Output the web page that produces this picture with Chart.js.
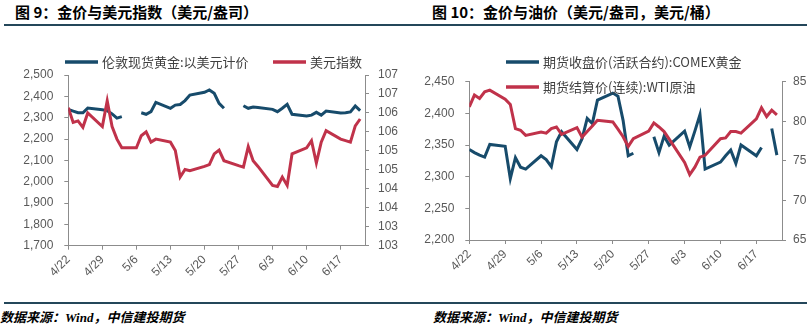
<!DOCTYPE html>
<html>
<head>
<meta charset="utf-8">
<script src="https://cdn.jsdelivr.net/npm/chart.js@4.4.1/dist/chart.umd.min.js"></script>
<style>
  body { margin: 0; width: 811px; height: 335px; background: #fff; position: relative; overflow: hidden; font-family: "Noto Sans CJK SC", sans-serif; }
  .title { position: absolute; top: 2px; line-height: 20px; font-size: 15px; font-weight: bold; color: #000; white-space: nowrap; }
  .rule { position: absolute; height: 2px; background: #24475a; }
  .src { position: absolute; top: 307px; line-height: 17px; font: italic bold 13px "Liberation Serif", "Noto Sans CJK SC", serif; color: #000; white-space: nowrap; }
  .box { position: absolute; top: 30px; height: 270px; }
</style>
</head>
<body>
<div class="title" style="left:15px">图 9：金价与美元指数（美元/盎司）</div>
<div class="title" style="left:432px">图 10：金价与油价（美元/盎司，美元/桶）</div>
<div class="rule" style="left:4px;width:396px;top:24px"></div>
<div class="rule" style="left:400px;width:407px;top:24px"></div>
<div class="rule" style="left:4px;width:396px;top:302px"></div>
<div class="rule" style="left:400px;width:407px;top:302px"></div>
<div class="src" style="left:0px">数据来源：Wind，中信建投期货</div>
<div class="src" style="left:433px">数据来源：Wind，中信建投期货</div>
<div class="box" style="left:0;width:400px"><canvas id="goldUsd"></canvas></div>
<div class="box" style="left:400px;width:411px"><canvas id="goldOil"></canvas></div>
<script>
// 交易日
const dates = ['4/22','4/23','4/24','4/25','4/26','4/29','4/30','5/1','5/2','5/3',
  '5/6','5/7','5/8','5/9','5/10','5/13','5/14','5/15','5/16','5/17',
  '5/20','5/21','5/22','5/23','5/24','5/27','5/28','5/29','5/30','5/31',
  '6/3','6/4','6/5','6/6','6/7','6/10','6/11','6/12','6/13','6/14',
  '6/17','6/18','6/19','6/20','6/21'];
const tickDates = ['4/22','4/29','5/6','5/13','5/20','5/27','6/3','6/10','6/17'];

// 图9
const londonGold = [2339, 2331, 2323, 2323, 2345, 2337, 2333, 2318, 2298, 2305,
  null, 2323, 2316, 2328, 2372, 2344, 2359, 2362, 2380, 2406,
  2419, 2430, 2414, 2367, 2344, null, 2356, 2344, 2350, 2348,
  2339, 2328, 2344, 2362, 2316, 2308, 2312, 2325, 2312, 2331,
  2322, 2323, 2327, 2355, 2333];
const usdIndex = [106.14, 105.75, 105.79, 105.62, 106.0, 105.64, 106.32, 105.64, 105.31, 105.08,
  105.08, 105.40, 105.50, 105.23, 105.31, 105.23, 105.01, 104.31, 104.51, 104.48,
  104.59, 104.64, 104.92, 105.02, 104.74, 104.61, 104.57, 105.11, 104.74, 104.59,
  104.09, 104.06, 104.31, 104.09, 104.92, 105.08, 105.27, 104.68, 105.23, 105.53,
  105.31, 105.27, 105.23, 105.66, 105.84];

// 图10
const comexGold = [2343, 2338, 2334, 2331, 2351, 2348, 2297, 2330, 2315, 2312,
  2333, 2327, 2316, 2355, 2371, 2343, 2360, 2392, 2384, 2421,
  2432, 2427, 2389, 2333, 2337, null, 2363, 2338, 2364, 2350,
  2372, 2347, 2372, 2398, 2312, 2323, 2333, 2342, 2321, 2350,
  2333, 2346, null, 2376, 2334];
const wtiOil = [81.82, 83.31, 82.88, 83.73, 83.94, 82.8, 82.12, 79.07, 78.86, 78.22,
  78.64, 78.5, 79.07, 79.28, 78.35, 79.2, 78.0, 78.7, 79.4, 80.13,
  79.92, 79.0, 78.05, 76.82, 77.8, 78.77, 79.8, 79.28, 78.7, 77.75,
  74.8, 73.26, 74.2, 75.47, 75.7, 77.8, 77.9, 78.7, 78.7, 78.5,
  80.3, 81.7, 80.6, 81.4, 80.8];

const BLUE = '#174b6b';
const RED = '#c0324a';
const AXIS = '#8c8c8c';
const TXT = '#595959';

function dayNum(s) {
  const [m, d] = s.split('/').map(Number);
  return (Date.UTC(2024, m - 1, d) - Date.UTC(2024, 3, 22)) / 864e5;
}
function toPoints(vals) {
  return dates.map((d, i) => ({ x: dayNum(d), y: vals[i] }));
}

// 图例（Excel 式，线段 + 文字）
const lineLegend = {
  id: 'lineLegend',
  afterDraw(chart, args, opts) {
    const ctx = chart.ctx;
    ctx.save();
    ctx.font = '13px "Noto Sans CJK SC", sans-serif';
    ctx.textBaseline = 'middle';
    chart.data.datasets.forEach((ds, i) => {
      const p = opts.items[i];
      ctx.strokeStyle = ds.borderColor;
      ctx.lineWidth = 3.5;
      ctx.beginPath();
      ctx.moveTo(p.x, p.y);
      ctx.lineTo(p.x + 33, p.y);
      ctx.stroke();
      ctx.fillStyle = '#404040';
      ctx.fillText(ds.label, p.x + 37, p.y);
    });
    ctx.restore();
  }
};

const font = { family: '"Liberation Sans", Arial, sans-serif', size: 12 };
const axisGrid = { drawOnChartArea: false, drawTicks: true, tickLength: 4, color: AXIS };

function xScale(height) {
  return {
    type: 'linear', min: 0, max: 61,
    afterBuildTicks: s => { s.ticks = tickDates.map(t => ({ value: dayNum(t) })); },
    afterFit: s => { s.height = height; },
    ticks: {
      autoSkip: false, minRotation: 45, maxRotation: 45, color: TXT, font: font,
      callback: v => tickDates[tickDates.findIndex(t => dayNum(t) === v)]
    },
    grid: axisGrid,
    border: { color: AXIS }
  };
}

new Chart(document.getElementById('goldUsd'), {
  type: 'line',
  data: {
    datasets: [{
      label: '伦敦现货黄金:以美元计价',
      data: toPoints(londonGold),
      borderColor: BLUE, borderWidth: 3, pointRadius: 0, yAxisID: 'y', order: 1
    }, {
      label: '美元指数',
      data: toPoints(usdIndex),
      borderColor: RED, borderWidth: 3, pointRadius: 0, yAxisID: 'y2', order: 0
    }]
  },
  options: {
    responsive: true,
    maintainAspectRatio: false,
    animation: false,
    layout: { padding: { top: 45, left: 0, right: 0, bottom: 0 } },
    scales: {
      x: xScale(54.3),
      y: {
        position: 'left', min: 1700, max: 2500,
        afterFit: s => { s.width = 68.3; },
        ticks: { stepSize: 100, color: TXT, font: font, padding: 11,
          callback: v => v.toLocaleString('en-US') },
        grid: axisGrid, border: { color: AXIS }
      },
      y2: {
        position: 'right', min: 102.5, max: 107,
        afterFit: s => { s.width = 35; },
        ticks: { stepSize: 0.5, color: TXT, font: font, padding: 9,
          callback: v => Math.round(v) },
        grid: axisGrid, border: { color: AXIS }
      }
    },
    plugins: {
      legend: { display: false },
      tooltip: { enabled: false },
      lineLegend: { items: [{ x: 65, y: 32 }, { x: 273, y: 32 }] }
    }
  },
  plugins: [lineLegend]
});

new Chart(document.getElementById('goldOil'), {
  type: 'line',
  data: {
    datasets: [{
      label: '期货收盘价(活跃合约):COMEX黄金',
      data: toPoints(comexGold),
      borderColor: BLUE, borderWidth: 3, pointRadius: 0, yAxisID: 'y', order: 1
    }, {
      label: '期货结算价(连续):WTI原油',
      data: toPoints(wtiOil),
      borderColor: RED, borderWidth: 3, pointRadius: 0, yAxisID: 'y2', order: 0
    }]
  },
  options: {
    responsive: true,
    maintainAspectRatio: false,
    animation: false,
    layout: { padding: { top: 51.7, left: 0, right: 0, bottom: 0 } },
    scales: {
      x: xScale(60),
      y: {
        position: 'left', min: 2200, max: 2450,
        afterFit: s => { s.width = 69.3; },
        ticks: { stepSize: 50, color: TXT, font: font, padding: 11,
          callback: v => v.toLocaleString('en-US') },
        grid: axisGrid, border: { color: AXIS }
      },
      y2: {
        position: 'right', min: 65, max: 85,
        afterFit: s => { s.width = 29; },
        ticks: { stepSize: 5, color: TXT, font: font, padding: 7 },
        grid: axisGrid, border: { color: AXIS }
      }
    },
    plugins: {
      legend: { display: false },
      tooltip: { enabled: false },
      lineLegend: { items: [{ x: 106, y: 32 }, { x: 106, y: 57 }] }
    }
  },
  plugins: [lineLegend]
});
</script>
</body>
</html>
